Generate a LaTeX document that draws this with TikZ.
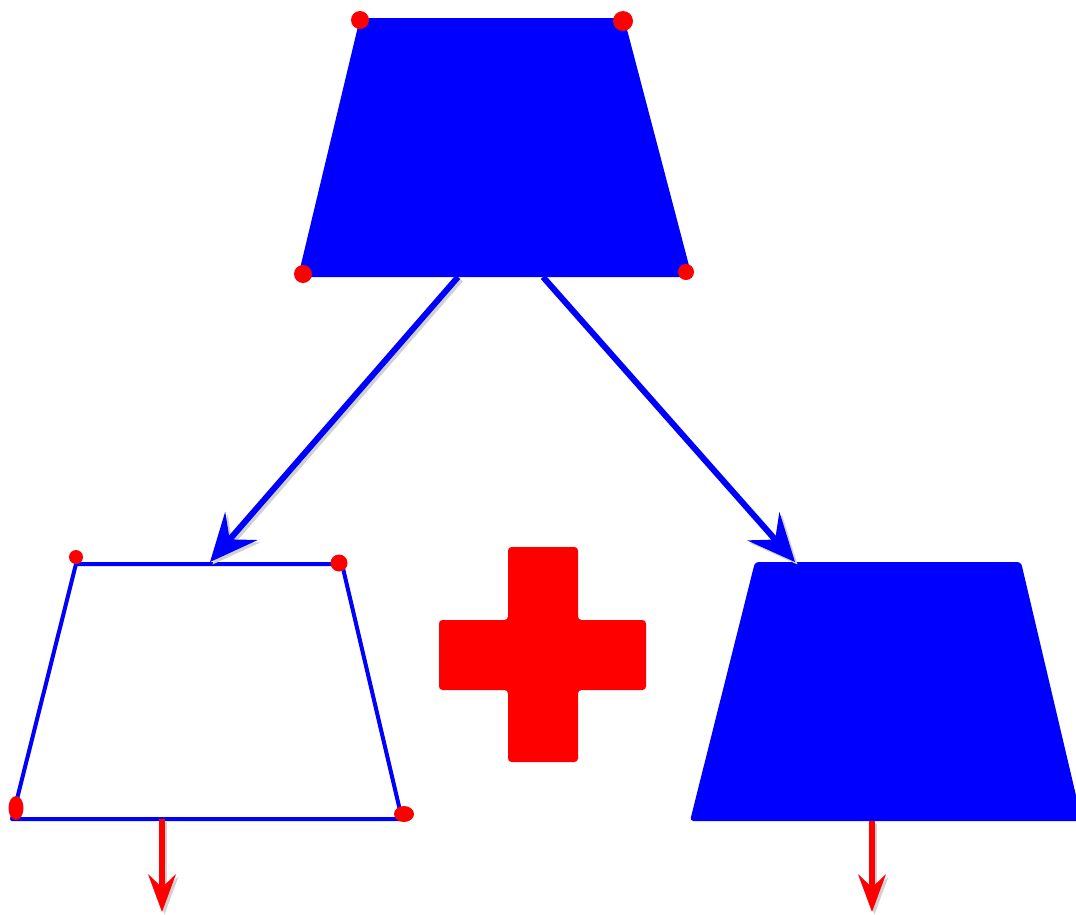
\documentclass[tikz,border=0pt]{standalone}
\usetikzlibrary{arrows.meta}
\definecolor{trapblue}{RGB}{0,0,255}
\definecolor{dotred}{RGB}{255,0,0}
\begin{document}
\begin{tikzpicture}[x=0.02cm, y=-0.02cm,
    bluearrow/.style={-{Stealth[length=0.95cm, width=0.85cm, inset=0.35cm]}, line width=0.12cm, trapblue},
    redarrow/.style={-{Stealth[length=0.75cm, width=0.55cm, inset=0.26cm]}, line width=0.11cm, dotred},
    shade/.style={black!18, transform canvas={shift={(0.05cm,-0.05cm)}}},
    corner/.style={fill=dotred}]
			      \useasboundingbox (0,0) rectangle (1076,914);
			      % top trapezoid
			      \coordinate (tl) at (360,18);  \coordinate (tr) at (624,18);
			      \coordinate (bl) at (298,277); \coordinate (br) at (692,277);
			      \fill[trapblue, rounded corners=1pt] (tl) -- (tr) -- (br) -- (bl) -- cycle;
			      % left trapezoid (outline)
			      \coordinate (ltl) at (76,564);  \coordinate (ltr) at (342,564);
			      \coordinate (lbl) at (12,819);  \coordinate (lbr) at (402,819);
			      \draw[trapblue, line width=0.08cm, line join=round] (ltl) -- (ltr) -- (lbr) -- (lbl) -- cycle;
			      % right trapezoid (filled)
			      \coordinate (rtl) at (755,562);  \coordinate (rtr) at (1021,562);
			      \coordinate (rbl) at (690,821);  \coordinate (rbr) at (1082,821);
			      \fill[trapblue, rounded corners=2pt] (rtl) -- (rtr) -- (rbr) -- (rbl) -- cycle;
			      % red corner dots
			      \fill[corner] (tl) ++(0,2) circle (9);
			      \fill[corner] (tr) ++(-1,3) circle (10);
			      \fill[corner] (bl) ++(5,-3) circle (9);
			      \fill[corner] (br) ++(-6,-5) circle (8);
			      \fill[corner] (ltl) ++(0,-7) circle (7);
			      \fill[corner] (ltr) ++(-3,-1) circle (8.5);
			      \fill[corner] (lbl) ++(4,-11) ellipse (7.5 and 12);
			      \fill[corner] (lbr) ++(2,-5) ellipse (10 and 8);
			      % plus sign
			      \fill[dotred, rounded corners=2pt] (508,547) -- (578,547) -- (578,620) -- (646,620) -- (646,690)
			            -- (578,690) -- (578,762) -- (508,762) -- (508,690) -- (439,690) -- (439,620) -- (508,620) -- cycle;
			      % arrows
			      \coordinate (a1) at (458,277); \coordinate (a1e) at (210,562);
			      \coordinate (a2) at (543,277); \coordinate (a2e) at (795,562);
			      \foreach \s/\e in {a1/a1e, a2/a2e} {
			        \draw[bluearrow, shade] (\s) -- (\e);
			        \draw[bluearrow] (\s) -- (\e);
			      }
			      \coordinate (o1) at (162,819); \coordinate (o1e) at (162,912);
			      \coordinate (o2) at (872,821); \coordinate (o2e) at (872,912);
			      \foreach \s/\e in {o1/o1e, o2/o2e} {
			        \draw[redarrow, shade] (\s) -- (\e);
			        \draw[redarrow] (\s) -- (\e);
			      }
		      \end{tikzpicture}
\end{document}
